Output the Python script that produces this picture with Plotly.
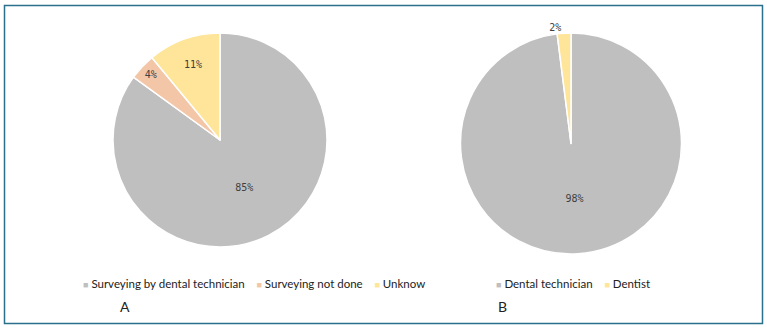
import plotly.graph_objects as go

labels_a = ["Surveying by dental technician", "Surveying not done", "Unknow"]
values_a = [85, 4, 11]
colors_a = ["#bfbfbf", "#f4c6a8", "#fee59a"]

labels_b = ["Dental technician", "Dentist"]
values_b = [98, 2]
colors_b = ["#bfbfbf", "#fee59a"]

W, H = 767, 328

def px(x):
    return x / W

def py(y):
    return 1 - y / H

pct_font = dict(size=10, color="#404040", family="DejaVu Sans Mono")

fig = go.Figure()
fig.add_trace(go.Pie(
    labels=labels_a, values=values_a, sort=False, direction="clockwise", rotation=0,
    marker=dict(colors=colors_a, line=dict(color="white", width=1.5)),
    texttemplate="%{value}%", textposition="inside", insidetextorientation="horizontal",
    textfont=pct_font,
    domain=dict(x=[px(113), px(327)], y=[py(247), py(33)]),
    showlegend=False, hoverinfo="label+percent",
))
fig.add_trace(go.Pie(
    labels=labels_b, values=values_b, sort=False, direction="clockwise", rotation=0,
    marker=dict(colors=colors_b, line=dict(color="white", width=1.5)),
    texttemplate="%{value}%", textposition=["inside", "outside"], insidetextorientation="horizontal",
    textfont=pct_font,
    domain=dict(x=[px(459), px(683)], y=[py(254), py(33)]),
    showlegend=False, hoverinfo="label+percent", automargin=False,
))


def legend_text(labels, colors):
    parts = []
    for lab, col in zip(labels, colors):
        parts.append('<span style="color:%s;font-size:9px">■</span>&nbsp;%s' % (col, lab))
    return "&nbsp;&nbsp;&nbsp;&nbsp;".join(parts)

txt_font = dict(family="Lato", size=11.5, color="#222222")
fig.update_layout(
    width=W, height=H, margin=dict(l=0, r=0, t=0, b=0),
    paper_bgcolor="white", plot_bgcolor="white",
    annotations=[
        dict(text=legend_text(labels_a, colors_a), x=px(81), y=py(283), xref="paper", yref="paper",
             xanchor="left", yanchor="middle", showarrow=False, font=txt_font),
        dict(text=legend_text(labels_b, colors_b), x=px(494), y=py(283), xref="paper", yref="paper",
             xanchor="left", yanchor="middle", showarrow=False, font=txt_font),
        dict(text="A", x=px(125), y=py(306), xref="paper", yref="paper", showarrow=False,
             xanchor="center", yanchor="middle", font=dict(family="Lato", size=14, color="#222222")),
        dict(text="B", x=px(502), y=py(306), xref="paper", yref="paper", showarrow=False,
             xanchor="center", yanchor="middle", font=dict(family="Lato", size=14, color="#222222")),
    ],
    shapes=[dict(type="rect", xref="paper", yref="paper", x0=px(4.5), x1=px(762.5),
                 y0=py(323.5), y1=py(5.5), line=dict(color="#2a6f8c", width=1.5))],
)

fig.write_html("out.html", config={"displayModeBar": False},
               post_script="document.body.style.margin='0';document.body.style.overflow='hidden';")
